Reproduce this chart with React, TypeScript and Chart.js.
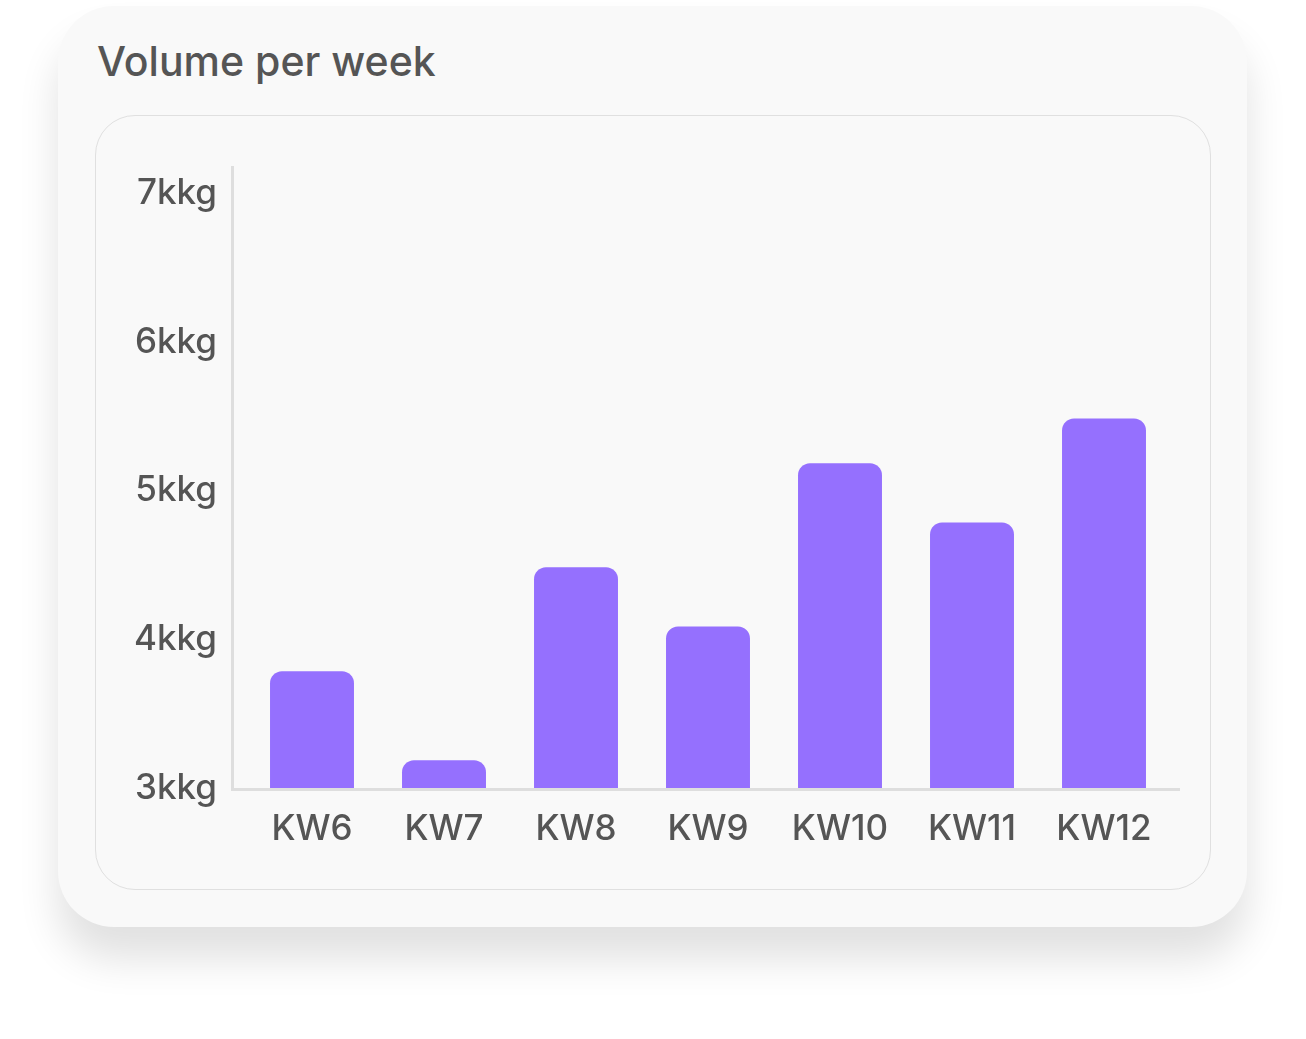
import React, { useEffect, useRef } from "react";
import { Chart, registerables } from "chart.js";

Chart.register(...registerables);

const categories = ["KW6", "KW7", "KW8", "KW9", "KW10", "KW11", "KW12"];
const volumes = [3.8, 3.2, 4.5, 4.1, 5.2, 4.8, 5.5];
const yTickValues = [3, 4, 5, 6, 7];
const yUnit = "kkg";
const title = "Volume per week";

const BAR_COLOR = "#9570fe";
const TEXT_COLOR = "#555555";
const AXIS_COLOR = "#dedede";
const FONT = "Inter, 'Noto Sans', sans-serif";

const axisLinesPlugin = {
  id: "axisLines",
  afterDatasetsDraw(chart: any) {
    const { ctx, chartArea } = chart;
    const left = chartArea.left - 13.5;
    ctx.save();
    ctx.strokeStyle = AXIS_COLOR;
    ctx.lineWidth = 3;
    ctx.beginPath();
    ctx.moveTo(left, chartArea.top);
    ctx.lineTo(left, chartArea.bottom - 0.5);
    ctx.moveTo(left - 1.5, chartArea.bottom - 0.5);
    ctx.lineTo(chartArea.right + 10, chartArea.bottom - 0.5);
    ctx.stroke();
    ctx.restore();
  },
};

function VolumeChart() {
  const ref = useRef<HTMLCanvasElement | null>(null);
  useEffect(() => {
    if (!ref.current) return;
    const chart = new Chart(ref.current, {
      type: "bar",
      data: {
        labels: categories,
        datasets: [
          {
            data: volumes,
            backgroundColor: BAR_COLOR,
            borderRadius: 12,
            borderSkipped: false,
            categoryPercentage: 1,
            barPercentage: 0.636,
          },
        ],
      },
      options: {
        animation: false,
        responsive: true,
        maintainAspectRatio: false,
        layout: { padding: { top: 44, right: 40, left: 0, bottom: 0 } },
        plugins: { legend: { display: false }, tooltip: { enabled: false } },
        scales: {
          x: {
            grid: { display: false, drawTicks: false },
            border: { display: false },
            ticks: {
              color: TEXT_COLOR,
              padding: 18,
              font: { family: FONT, size: 35, weight: 500 },
            },
            afterFit: (s: any) => {
              s.height = 99;
            },
          },
          y: {
            min: 3,
            max: 7.2,
            grid: { display: false, drawTicks: false },
            border: { display: false },
            afterBuildTicks: (s: any) => {
              s.ticks = yTickValues.map((v) => ({ value: v }));
            },
            ticks: {
              color: TEXT_COLOR,
              padding: 29,
              labelOffset: -2,
              font: { family: FONT, size: 35, weight: 500 },
              callback: (v: any) => `${v}${yUnit}`,
            },
            afterFit: (s: any) => {
              s.width = 150;
            },
          },
        },
      },
      plugins: [axisLinesPlugin],
    });
    return () => chart.destroy();
  }, []);
  return <canvas ref={ref} />;
}

export default function App() {
  return (
    <div
      style={{
        position: "fixed",
        left: 0,
        top: 0,
        width: 1306,
        height: 1039,
        background: "#ffffff",
        fontFamily: FONT,
      }}
    >
      <div
        style={{
          position: "absolute",
          left: 58,
          top: 6,
          width: 1189,
          height: 921,
          borderRadius: 56,
          background: "#f9f9f9",
          boxShadow: "0 32px 40px rgba(0,0,0,0.12)",
        }}
      />
      <div
        style={{
          position: "absolute",
          left: 97,
          top: 41,
          fontSize: 41,
          lineHeight: 1,
          color: TEXT_COLOR,
          fontWeight: 500,
          whiteSpace: "nowrap",
        }}
      >
        {title}
      </div>
      <div
        style={{
          position: "absolute",
          left: 95,
          top: 115,
          width: 1114,
          height: 773,
          border: "1px solid #e0e0e0",
          borderRadius: 40,
          background: "#f9f9f9",
        }}
      />
      <div
        style={{
          position: "absolute",
          left: 96,
          top: 116,
          width: 1114,
          height: 773,
        }}
      >
        <VolumeChart />
      </div>
    </div>
  );
}
